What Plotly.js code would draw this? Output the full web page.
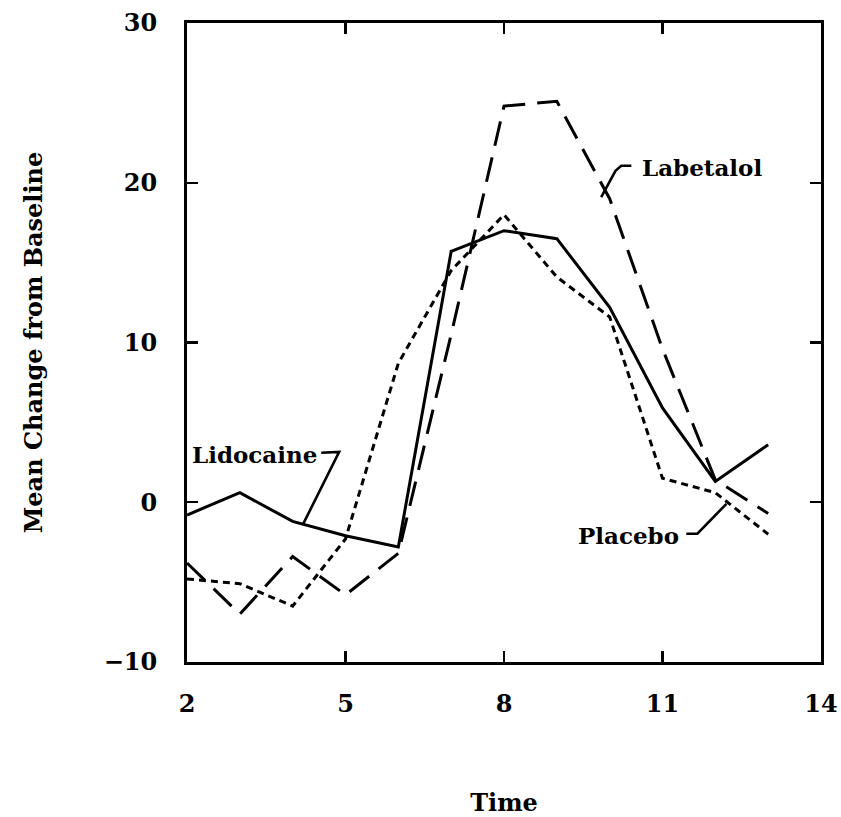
<!DOCTYPE html>
<html>
<head>
<meta charset="utf-8">
<script src="https://cdn.plot.ly/plotly-3.0.1.min.js"></script>
<style>html,body{margin:0;padding:0;background:#fff;}#chart{width:841px;height:817px;}</style>
</head>
<body>
<div id="chart"></div>
<script>
// Data
const time = [2, 3, 4, 5, 6, 7, 8, 9, 10, 11, 12, 13];
const lidocaine = [-0.8, 0.6, -1.2, -2.1, -2.8, 15.7, 17.0, 16.5, 12.2, 5.9, 1.3, 3.6];
const placebo   = [-4.8, -5.1, -6.5, -2.3, 8.7, 14.5, 18.0, 14.1, 11.6, 1.5, 0.6, -2.0];
const labetalol = [-3.8, -7.0, -3.4, -5.8, -3.2, 10.5, 24.8, 25.1, 19.0, 9.6, 1.4, -0.7];
const seriesNames = ["Lidocaine", "Placebo", "Labetalol"];
const xTicks = [2, 5, 8, 11, 14];
const yTicks = [-10, 0, 10, 20, 30];

// Label connector points (data coordinates)
const lidoConn = {x: [4.54, 4.88, 4.2], y: [3.1, 3.15, -1.35]};
const labeConn = {x: [10.41, 10.22, 10.11, 9.84], y: [21.06, 21.06, 20.75, 19.1]};
const placConn = {x: [11.45, 11.66, 12.21], y: [-1.97, -1.97, -0.1]};

const FONT = "'DejaVu Serif', 'Liberation Serif', serif";
const black = "#000";

const traces = [
  {x: time, y: lidocaine, name: seriesNames[0], mode: "lines",
   line: {color: black, width: 3, dash: "solid"}},
  {x: time, y: placebo, name: seriesNames[1], mode: "lines",
   line: {color: black, width: 3, dash: "7px,5px"}},
  {x: time, y: labetalol, name: seriesNames[2], mode: "lines",
   line: {color: black, width: 3, dash: "25px,12px"}},
  {x: lidoConn.x, y: lidoConn.y, mode: "lines", line: {color: black, width: 2.6}, hoverinfo: "skip"},
  {x: labeConn.x, y: labeConn.y, mode: "lines", line: {color: black, width: 2.6}, hoverinfo: "skip"},
  {x: placConn.x, y: placConn.y, mode: "lines", line: {color: black, width: 2.6}, hoverinfo: "skip"}
];

const layout = {
  width: 841, height: 817,
  margin: {l: 187, r: 20, t: 23, b: 155},
  paper_bgcolor: "#fff", plot_bgcolor: "#fff",
  showlegend: false,
  font: {family: FONT, color: black, size: 24, weight: "bold"},
  xaxis: {
    range: [2, 14], tickvals: xTicks, ticktext: xTicks.map(String),
    ticks: "inside", ticklen: 11, tickwidth: 2.4, tickcolor: black,
    showline: true, linecolor: black, linewidth: 3, mirror: "ticks",
    showgrid: false, zeroline: false,
    tickfont: {family: FONT, size: 24, weight: "bold", color: black},
    ticklabelstandoff: 18,
    title: {text: "Time", font: {family: FONT, size: 24, weight: "bold", color: black}, standoff: 82}
  },
  yaxis: {
    range: [-10, 30], tickvals: yTicks, ticktext: yTicks.map(v => v < 0 ? "\u2212" + Math.abs(v) : String(v)),
    ticks: "inside", ticklen: 11, tickwidth: 2.4, tickcolor: black,
    showline: true, linecolor: black, linewidth: 3, mirror: "ticks",
    showgrid: false, zeroline: false,
    tickfont: {family: FONT, size: 24, weight: "bold", color: black},
    ticklabelstandoff: 22,
    title: {text: "Mean Change from Baseline", font: {family: FONT, size: 24, weight: "bold", color: black}, standoff: 55}
  },
  annotations: [
    {x: 4.5, y: 3.0, xref: "x", yref: "y", text: "Lidocaine", showarrow: false,
     xanchor: "right", yanchor: "middle", font: {family: FONT, size: 23, weight: "bold", color: black}},
    {x: 10.58, y: 20.95, xref: "x", yref: "y", text: "Labetalol", showarrow: false,
     xanchor: "left", yanchor: "middle", font: {family: FONT, size: 23, weight: "bold", color: black}},
    {x: 11.35, y: -2.1, xref: "x", yref: "y", text: "Placebo", showarrow: false,
     xanchor: "right", yanchor: "middle", font: {family: FONT, size: 23, weight: "bold", color: black}}
  ]
};

Plotly.newPlot("chart", traces, layout, {staticPlot: true, displayModeBar: false});
</script>
</body>
</html>
